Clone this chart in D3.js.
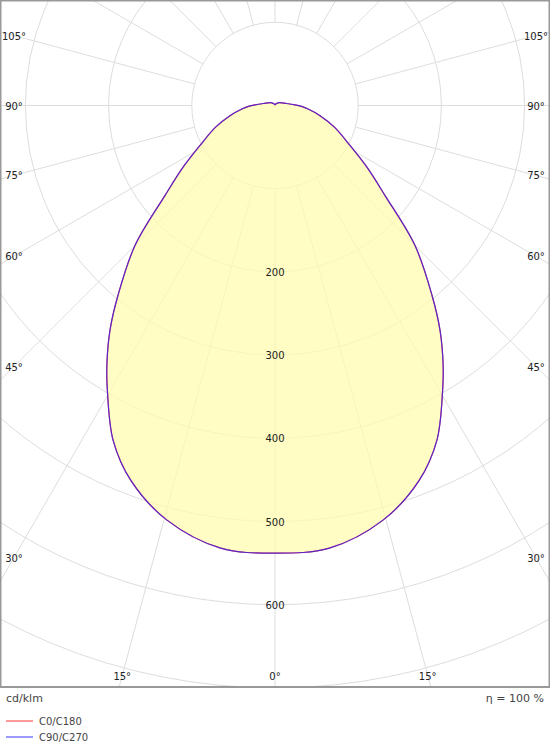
<!DOCTYPE html>
<html><head><meta charset="utf-8">
<script src="https://cdn.jsdelivr.net/npm/d3@7"></script>
<style>body{margin:0;background:#fff;font-family:"DejaVu Sans",Verdana,sans-serif}</style>
</head><body><svg id="c" width="550" height="750"></svg>
<script>
const angles = [0, 7, 14.6, 21, 25.8, 30.5, 33, 36.3, 39.6, 45, 50.7, 56, 62, 70, 77.5, 84, 88, 92, 100, 125, 155, 180];
const c0c180 = [538, 536, 515, 483, 447, 397, 371, 335, 296, 238, 171, 134, 102, 76, 55, 40, 32, 24, 14, 6, 2, 1];
const c90c270 = c0c180.slice();
const rings = [100, 200, 300, 400, 500, 600, 700, 800];
const ringLabels = [200, 300, 400, 500, 600];
const sideAngles = [30, 45, 60, 75, 90, 105];
const bottomAngles = [-15, 0, 15];

const svg = d3.select("#c");
const W = 550, H = 687, cx = 275, cy = 105.5;
const r = d3.scaleLinear().domain([0, 100]).range([0, 83.2]);
svg.append("defs").append("clipPath").attr("id","clip").append("rect").attr("x",0).attr("y",0).attr("width",W).attr("height",H);
const g = svg.append("g").attr("clip-path","url(#clip)");
const pt = (a, v) => [cx + r(v) * Math.sin(a * Math.PI/180), cy + r(v) * Math.cos(a * Math.PI/180)];

g.selectAll("circle.ring").data(rings).join("circle")
  .attr("cx",cx).attr("cy",cy).attr("r",d=>r(d)).attr("fill","none").attr("stroke","#ddd");
g.selectAll("line.rad").data(d3.range(0,360,15)).join("line")
  .attr("x1",d=>pt(d,100)[0]).attr("y1",d=>pt(d,100)[1])
  .attr("x2",d=>pt(d,1200)[0]).attr("y2",d=>pt(d,1200)[1]).attr("stroke","#ddd");

function full(vals){
  const p=[];
  angles.forEach((a,i)=>p.push(pt(a,vals[i])));
  for(let i=angles.length-2;i>=1;i--) p.push(pt(-angles[i],vals[i]));
  return p;
}
const line = d3.line().curve(d3.curveCatmullRomClosed);
g.append("path").attr("d",line(full(c0c180))).attr("fill","#fffcb0").attr("fill-opacity",0.75).attr("stroke","none");
g.append("path").attr("d",line(full(c0c180))).attr("fill","none").attr("stroke","#ff3030").attr("stroke-width",1.2);
g.append("path").attr("d",line(full(c90c270))).attr("fill","none").attr("stroke","#2020ff").attr("stroke-width",1.2).attr("stroke-opacity",0.75);

svg.selectAll("text.rl").data(ringLabels).join("text")
  .attr("x",cx).attr("y",d=>cy+r(d)+4).attr("text-anchor","middle").attr("font-size",10).attr("fill","#222").text(d=>d);
const sx = 261;
sideAngles.forEach(a=>{
  const y = cy + sx/Math.tan(a*Math.PI/180);
  [[cx-sx],[cx+sx]].forEach(([x])=>svg.append("text").attr("x",x).attr("y",y+4).attr("text-anchor","middle").attr("font-size",10).attr("fill","#222").text(a+"°"));
});
bottomAngles.forEach(a=>{
  const dy = 570;
  svg.append("text").attr("x",cx+dy*Math.tan(a*Math.PI/180)).attr("y",cy+dy+4).attr("text-anchor","middle").attr("font-size",10).attr("fill","#222").text(Math.abs(a)+"°");
});
svg.append("rect").attr("x",0.5).attr("y",0.5).attr("width",W-1).attr("height",H-0.5).attr("fill","none").attr("stroke","#999").attr("stroke-width",2);

svg.append("text").attr("x",6).attr("y",702).attr("font-size",11).attr("fill","#444").text("cd/klm");
svg.append("text").attr("x",544).attr("y",702).attr("text-anchor","end").attr("font-size",11).attr("fill","#444").text("η = 100 %");
[["C0/C180","#ff9a9a",721],["C90/C270","#9a9aff",737]].forEach(([t,c,y])=>{
  svg.append("line").attr("x1",6).attr("x2",33).attr("y1",y).attr("y2",y).attr("stroke",c).attr("stroke-width",2);
  svg.append("text").attr("x",39).attr("y",y+4).attr("font-size",10).attr("fill","#444").text(t);
});
</script></body></html>
